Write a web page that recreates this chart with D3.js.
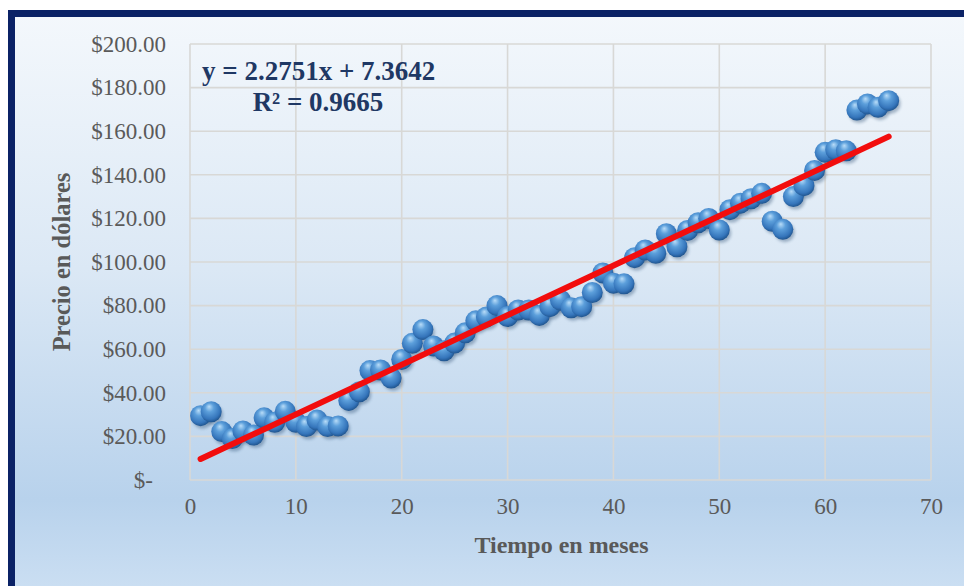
<!DOCTYPE html>
<html>
<head>
<meta charset="utf-8">
<script src="https://cdn.jsdelivr.net/npm/d3@7"></script>
<style>
  body { margin: 0; background: #ffffff; }
  svg { display: block; }
  text { font-family: "Liberation Serif", "Times New Roman", serif; }
</style>
</head>
<body>
<svg id="chart" width="964" height="586"></svg>
<script>
// months (x) and price in dollars (y)
const months = d3.range(1, 67);
const prices = [
  29.5, 31.3, 22.2, 19.0, 22.5, 20.6, 28.5, 26.5, 31.5, 26.5,
  24.5, 27.5, 24.5, 24.8, 36.5, 40.5, 50.2, 50.5, 46.8, 55.3,
  62.7, 69.0, 61.5, 59.3, 62.8, 67.5, 73.0, 74.8, 80.0, 75.0,
  78.0, 78.0, 75.5, 79.5, 82.5, 79.0, 79.5, 86.0, 95.0, 90.3,
  90.0, 102.0, 105.5, 104.0, 113.0, 107.0, 114.5, 118.0, 120.0, 114.7,
  124.0, 127.0, 129.0, 131.5, 118.7, 115.0, 130.0, 135.0, 142.0, 150.3,
  151.5, 151.0, 169.7, 172.5, 171.0, 174.0
];
const xTicks = [0, 10, 20, 30, 40, 50, 60, 70];
const yTicks = [0, 20, 40, 60, 80, 100, 120, 140, 160, 180, 200];

// linear trendline shown on the chart
const slope = 2.2751;
const intercept = 7.3642;
const eqLine1 = "y = 2.2751x + 7.3642";
const eqLine2 = "R² = 0.9665";

const xTitle = "Tiempo en meses";
const yTitle = "Precio en dólares";

const data = months.map((m, i) => ({ x: m, y: prices[i] }));

const svg = d3.select("#chart");
const W = 964, H = 586;
const plot = { left: 190, right: 931, top: 44, bottom: 480 };

// background gradient + navy frame
const defs = svg.append("defs");
const bg = defs.append("linearGradient").attr("id", "bg")
  .attr("x1", 0).attr("y1", 0).attr("x2", 0).attr("y2", 1);
bg.append("stop").attr("offset", "0%").attr("stop-color", "#f4f8fc");
bg.append("stop").attr("offset", "45%").attr("stop-color", "#dbe8f5");
bg.append("stop").attr("offset", "85%").attr("stop-color", "#b8d2ec");
bg.append("stop").attr("offset", "100%").attr("stop-color", "#cadef2");

const ball = defs.append("radialGradient").attr("id", "ball")
  .attr("cx", "45%").attr("cy", "40%").attr("r", "60%")
  .attr("fx", "40%").attr("fy", "25%");
ball.append("stop").attr("offset", "0%").attr("stop-color", "#b8dcf8");
ball.append("stop").attr("offset", "35%").attr("stop-color", "#5c9fdb");
ball.append("stop").attr("offset", "80%").attr("stop-color", "#3575bb");
ball.append("stop").attr("offset", "100%").attr("stop-color", "#20558f");

const shadow = defs.append("filter").attr("id", "shadow")
  .attr("x", "-50%").attr("y", "-50%").attr("width", "200%").attr("height", "200%");
shadow.append("feGaussianBlur").attr("stdDeviation", 1.8);

svg.append("rect").attr("x", 8).attr("y", 10).attr("width", W - 8).attr("height", H - 10)
  .attr("fill", "url(#bg)");
svg.append("rect").attr("x", 8).attr("y", 10).attr("width", W - 8).attr("height", 7)
  .attr("fill", "#0b2266");
svg.append("rect").attr("x", 8).attr("y", 10).attr("width", 7).attr("height", H - 10)
  .attr("fill", "#0b2266");

// scales
const x = d3.scaleLinear().domain([0, 70]).range([plot.left, plot.right]);
const y = d3.scaleLinear().domain([0, 200]).range([plot.bottom, plot.top]);

// grid
const grid = svg.append("g").attr("stroke", "#d8d8d6").attr("stroke-width", 1.6);
grid.selectAll(".gy").data(yTicks).enter().append("line")
  .attr("x1", plot.left).attr("x2", plot.right)
  .attr("y1", d => y(d)).attr("y2", d => y(d));
grid.selectAll(".gx").data(xTicks).enter().append("line")
  .attr("y1", plot.top).attr("y2", plot.bottom)
  .attr("x1", d => x(d)).attr("x2", d => x(d));

// axes (labels only, no domain line or ticks)
const yAxis = d3.axisLeft(y).tickValues(yTicks).tickSize(0).tickPadding(24)
  .tickFormat(d => d === 0 ? "$-" : "$" + d3.format(".2f")(d));
const gy = svg.append("g").attr("transform", `translate(${plot.left},0)`).call(yAxis);
const gx = svg.append("g").attr("transform", `translate(0,${plot.bottom})`)
  .call(d3.axisBottom(x).tickValues(xTicks).tickSize(0).tickPadding(18));
[gy, gx].forEach(g => {
  g.select(".domain").remove();
  g.selectAll("text").attr("fill", "#5a5a5a").style("font-size", "23px")
    .style("font-family", "'Liberation Serif', serif");
});
gy.selectAll("text").attr("dx", d => d === 0 ? -13 : 0);

// axis titles
svg.append("text").attr("x", (plot.left + plot.right) / 2 + 1).attr("y", 553)
  .attr("text-anchor", "middle").attr("fill", "#595959")
  .style("font-size", "24px").style("font-weight", "bold").text(xTitle);
svg.append("text").attr("transform", `translate(70,${(plot.top + plot.bottom) / 2}) rotate(-90)`)
  .attr("text-anchor", "middle").attr("fill", "#595959")
  .style("font-size", "24.5px").style("font-weight", "bold").text(yTitle);

// points
const pts = svg.append("g");
pts.selectAll(".sh").data(data).enter().append("circle")
  .attr("cx", d => x(d.x) + 2).attr("cy", d => y(d.y) + 3).attr("r", 10)
  .attr("fill", "#1d3f66").attr("opacity", 0.35).attr("filter", "url(#shadow)");
pts.selectAll(".pt").data(data).enter().append("circle")
  .attr("cx", d => x(d.x)).attr("cy", d => y(d.y)).attr("r", 10.5)
  .attr("fill", "url(#ball)");

// trendline
const x0 = d3.min(months), x1 = d3.max(months);
svg.append("line")
  .attr("x1", x(x0)).attr("y1", y(slope * x0 + intercept))
  .attr("x2", x(x1)).attr("y2", y(slope * x1 + intercept))
  .attr("stroke", "#f20d0d").attr("stroke-width", 6).attr("stroke-linecap", "round");

// equation
const eq = svg.append("g").attr("fill", "#1f3864")
  .style("font-size", "27px").style("font-weight", "bold");
eq.append("text").attr("x", 202).attr("y", 80).text(eqLine1);
eq.append("text").attr("x", 318).attr("y", 111).attr("text-anchor", "middle").text(eqLine2);
</script>
</body>
</html>
